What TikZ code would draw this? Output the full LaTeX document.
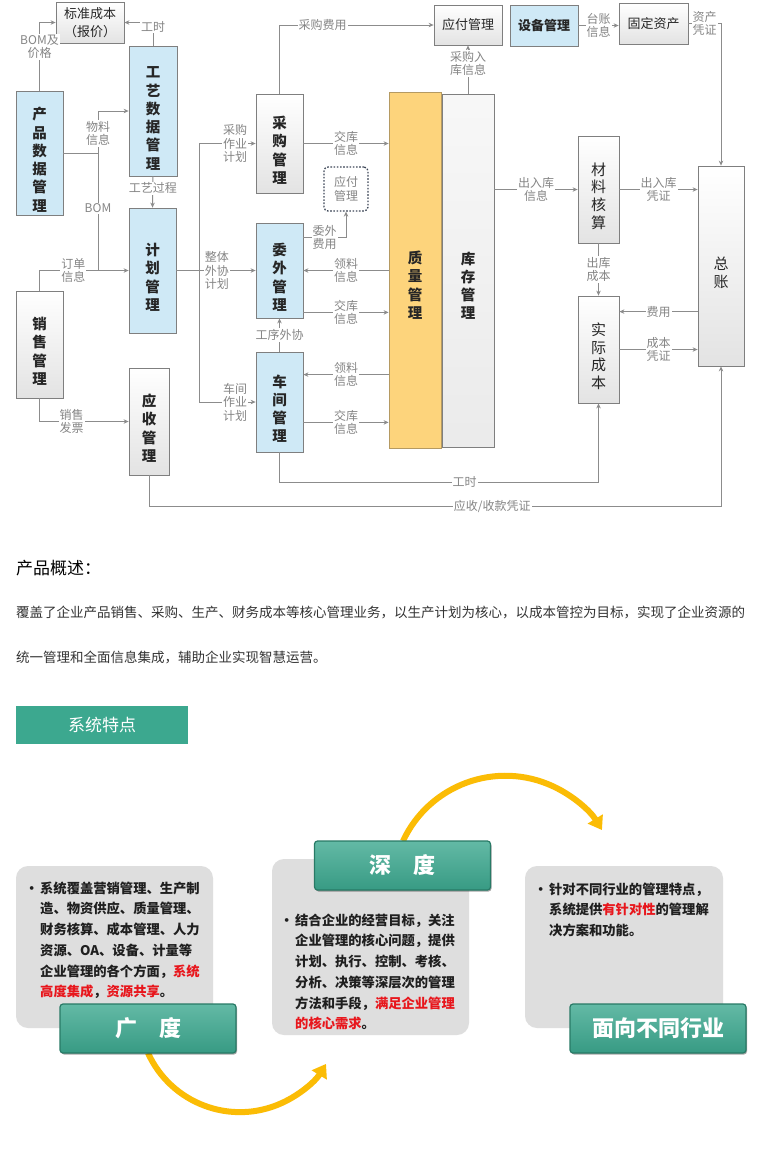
\documentclass[tikz,border=0pt]{standalone}
\usepackage{fontspec}
\setmainfont{Noto Sans CJK SC}
\usetikzlibrary{arrows.meta,shadows}
\definecolor{edgegrey}{HTML}{7F7F7F}
\definecolor{wiregrey}{HTML}{8C8C8C}
\definecolor{notegrey}{HTML}{858585}
\definecolor{ice}{HTML}{CFE9F6}
\definecolor{amber}{HTML}{FDD47C}
\definecolor{amberedge}{HTML}{B59A62}
\definecolor{slate}{HTML}{3E4858}
\definecolor{jade}{HTML}{3CA88F}
\definecolor{jadedark}{HTML}{287A66}
\definecolor{panegrey}{HTML}{DEDEDE}
\definecolor{gold}{HTML}{FBBC05}
\definecolor{hot}{HTML}{E8161C}
\definecolor{ink}{HTML}{333333}
\newcommand\lifted[1]{\rule{0pt}{#1}}
\begin{document}
\begin{tikzpicture}[x=1pt,y=-1pt,
  box/.style={draw=edgegrey,line width=.8pt,inner sep=0pt,align=center,text=black!85},
  bluebox/.style={box,fill=ice},
  greybox/.style={box,top color=white,bottom color=black!11},
  vtxt/.style={font=\fontsize{14.5}{18.3}\selectfont\bfseries},
  vplain/.style={font=\fontsize{15}{17.8}\selectfont},
  htxt/.style={font=\fontsize{13}{18}\selectfont},
  wire/.style={draw=wiregrey,line width=1pt},
  conn/.style={wire,-{Stealth[length=5pt,width=4.5pt]}},
  lbl/.style={fill=white,inner sep=1pt,text=notegrey,align=center,font=\fontsize{12}{13.5}\selectfont},
  card/.style={fill=panegrey,rounded corners=12pt},
  tag/.style={top color=jade!80!white,bottom color=jade!92!black,draw=jadedark,line width=1.2pt,rounded corners=3pt,minimum width=176,minimum height=49,text=white,font=\fontsize{22}{22}\selectfont\bfseries,drop shadow={shadow xshift=1pt,shadow yshift=-1.5pt,fill=black,opacity=.35}},
  swoosh/.style={draw=gold,line width=6pt,-{Triangle[length=13pt,width=17pt]}},
  bullets/.style={anchor=north west,inner sep=0pt,font=\fontsize{13.3}{20.7}\selectfont\bfseries,text=black!88}]
\fill[white] (0,0) rectangle (766,1168);
\useasboundingbox (0,0) rectangle (766,1168);
%%%% boxes
\foreach \nm/\st/\ft/\x/\y/\w/\h/\txt in {
  prod/bluebox/vtxt/39.5/153/47/124/{产\\品\\数\\据\\管\\理},
  craft/bluebox/vtxt/153/111/48/130/{工\\艺\\数\\据\\管\\理},
  plan/bluebox/vtxt/152.5/270.5/47/125/{计\\划\\管\\理},
  sales/greybox/vtxt/39.5/344.5/47/107/{销\\售\\管\\理},
  recv/greybox/vtxt/149/421.5/40/107/{应\\收\\管\\理},
  purch/greybox/vtxt/279.5/143.5/47/99/{采\\购\\管\\理},
  outs/bluebox/vtxt/279.5/270.5/47/95/{委\\外\\管\\理},
  shop/bluebox/vtxt/279.5/402/47/100/{车\\间\\管\\理},
  mat/greybox/vplain/598.5/189.5/41/107/{材\\料\\核\\算},
  cost/greybox/vplain/598.5/349.5/41/107/{实\\际\\成\\本},
  ledger/greybox/vplain/721/266/46/200/{总\\账}}
  \node[\st,\ft,minimum width=\w,minimum height=\h] (\nm) at (\x,\y) {\lifted{26pt}\txt};
\node[greybox,htxt,minimum width=68,minimum height=41] (std) at (90,22.5) {标准成本\\（报价）};
\node[greybox,htxt,minimum width=68,minimum height=40] (pay) at (468,25) {应付管理};
\node[bluebox,font=\fontsize{13}{18}\selectfont\bfseries,minimum width=68,minimum height=41] (equip) at (544,25.5) {设备管理};
\node[greybox,htxt,minimum width=69,minimum height=41] (asset) at (653.5,23.5) {固定资产};
\node[draw=slate,line width=1.3pt,dash pattern=on 1.6pt off 1.6pt,rounded corners=4pt,minimum width=44,minimum height=44,inner sep=0pt,align=center,text=notegrey,font=\fontsize{12}{14}\selectfont] (payd) at (346,189) {应付\\管理};
\node[box,fill=amber,draw=amberedge,vtxt,minimum width=52,minimum height=356] (qual) at (415,270) {\lifted{43pt}质\\量\\管\\理};
\node[box,top color=black!3,bottom color=black!8,vtxt,minimum width=52,minimum height=353] (stock) at (468,270.5) {\lifted{43pt}库\\存\\管\\理};
%%%% left
\draw[conn] (prod.north) |- node[lbl,pos=.32]{BOM及\\价格} (std.west);
\draw[conn] (craft.north) |- node[lbl,pos=.5,yshift=-4pt]{工时} (std.east);
\coordinate (bus) at (98,270.5);
\draw[conn] (sales.north) |- node[lbl,pos=.69]{订单\\信息} (plan.west);
\draw[conn] (bus) -- node[lbl,pos=.39]{BOM} node[lbl,pos=.86]{物料\\信息} (bus |- craft.west) -- (craft.west);
\draw[wire] (prod.east) -- (prod.east -| bus);
\draw[conn] (craft.south) -- node[lbl,pos=.375]{工艺过程} (plan.north);
\draw[conn] (sales.south) |- node[lbl,pos=.68]{销售\\发票} (recv.west);
\coordinate (fork) at (199,270.5);
\draw[conn] (plan.east) -- node[lbl,pos=.51]{整体\\外协\\计划} (outs.west);
\draw[conn] (fork) |- node[lbl,pos=.82]{采购\\作业\\计划} (purch.west);
\draw[conn] (fork) |- node[lbl,pos=.82]{车间\\作业\\计划} (shop.west);
%%%% middle
\coordinate (s1) at ([yshift=-23pt]shop.north east);
\coordinate (s2) at ([yshift=30pt]shop.south east);
\coordinate (o2) at ([yshift=6pt]outs.south east);
\draw[conn] (purch.north) |- node[lbl,pos=.64]{采购费用} (pay.west);
\draw[conn] (stock.north) -- node[lbl,pos=.63]{采购入\\库信息} (pay.south);
\draw[conn] (purch.east) -- node[lbl]{交库\\信息} (purch.east -| qual.west);
\draw[conn] ([yshift=-15pt]outs.north east) -| node[lbl,pos=.25]{委外\\费用} (payd.south);
\draw[conn] (outs.east -| qual.west) -- node[lbl]{领料\\信息} (outs.east);
\draw[conn] (o2) -- node[lbl]{交库\\信息} (o2 -| qual.west);
\draw[conn] (shop.north) -- node[lbl]{工序外协} (outs.south);
\draw[conn] (s1 -| qual.west) -- node[lbl]{领料\\信息} (s1);
\draw[conn] (s2) -- node[lbl]{交库\\信息} (s2 -| qual.west);
\draw[conn] (shop.south) -- ++(0,30) -| node[lbl,pos=.29]{工时} (cost.south);
\draw[conn] (recv.south) -- ++(0,31) -| node[lbl,pos=.3]{应收/收款凭证} (ledger.south);
%%%% right
\coordinate (c1) at ([yshift=-16pt]cost.north east);
\draw[conn] (stock.east |- mat.west) -- node[lbl]{出入库\\信息} (mat.west);
\draw[conn] (mat.east) -- node[lbl]{出入库\\凭证} (mat.east -| ledger.west);
\draw[conn] (mat.south) -- node[lbl]{出库\\成本} (cost.north);
\draw[conn] (c1 -| ledger.west) -- node[lbl]{费用} (c1);
\draw[conn] (cost.east) -- node[lbl]{成本\\凭证} (cost.east -| ledger.west);
\draw[conn] (equip.east) -- node[lbl]{台账\\信息} (equip.east -| asset.west);
\draw[conn] (asset.east) -| node[lbl,pos=.25]{资产\\凭证} (ledger.north);
%%%% text
\node[anchor=west,inner sep=0pt,font=\fontsize{17}{17}\selectfont] (title) at (16,568) {产品概述：};
\node[anchor=west,inner sep=0pt,text=ink,font=\fontsize{13.5}{13.5}\selectfont] (para1) at (16,612) {覆盖了企业产品销售、采购、生产、财务成本等核心管理业务，以生产计划为核心，以成本管控为目标，实现了企业资源的};
\node[anchor=west,inner sep=0pt,text=ink,font=\fontsize{13.5}{13.5}\selectfont] (para2) at (16,657) {统一管理和全面信息集成，辅助企业实现智慧运营。};
\node[fill=jade,minimum width=172,minimum height=38,text=white,font=\fontsize{17}{17}\selectfont] (feat) at (102,725) {系统特点};
%%%% features
\fill[card] (16,866) rectangle (213,1028);
\fill[card] (272,859) rectangle (469,1035);
\fill[card] (525,866) rectangle (723,1028);
\draw[swoosh] (148,1053) arc[start angle=155.5,end angle=31.5,radius=101];
\draw[swoosh] (403,841) arc[start angle=-155,end angle=-31.3,radius=113];
\node[tag] (broad) at (148,1028.5) {广　度};
\node[tag] (deep) at (402.5,865.5) {深　度};
\node[tag] (trade) at (658,1028.5) {面向不同行业};
\node[bullets] (broadtxt) at (29,878.5) {\begin{tabular}{@{}p{11pt}@{}l@{}}
\hspace*{-4pt}•&系统覆盖营销管理、生产制\\
&造、物资供应、质量管理、\\
&财务核算、成本管理、人力\\
&资源、OA、设备、计量等\\
&企业管理的各个方面，\textcolor{hot}{系统}\\
&\textcolor{hot}{高度集成}，\textcolor{hot}{资源共享}。
\end{tabular}};
\node[bullets] (deeptxt) at (284,910.5) {\begin{tabular}{@{}p{11pt}@{}l@{}}
\hspace*{-4pt}•&结合企业的经营目标，关注\\
&企业管理的核心问题，提供\\
&计划、执行、控制、考核、\\
&分析、决策等深层次的管理\\
&方法和手段，\textcolor{hot}{满足企业管理}\\
&\textcolor{hot}{的核心需求}。
\end{tabular}};
\node[bullets] (tradetxt) at (538,879.5) {\begin{tabular}{@{}p{11pt}@{}l@{}}
\hspace*{-4pt}•&针对不同行业的管理特点，\\
&系统提供\textcolor{hot}{有针对性}的管理解\\
&决方案和功能。
\end{tabular}};
\end{tikzpicture}
\end{document}
